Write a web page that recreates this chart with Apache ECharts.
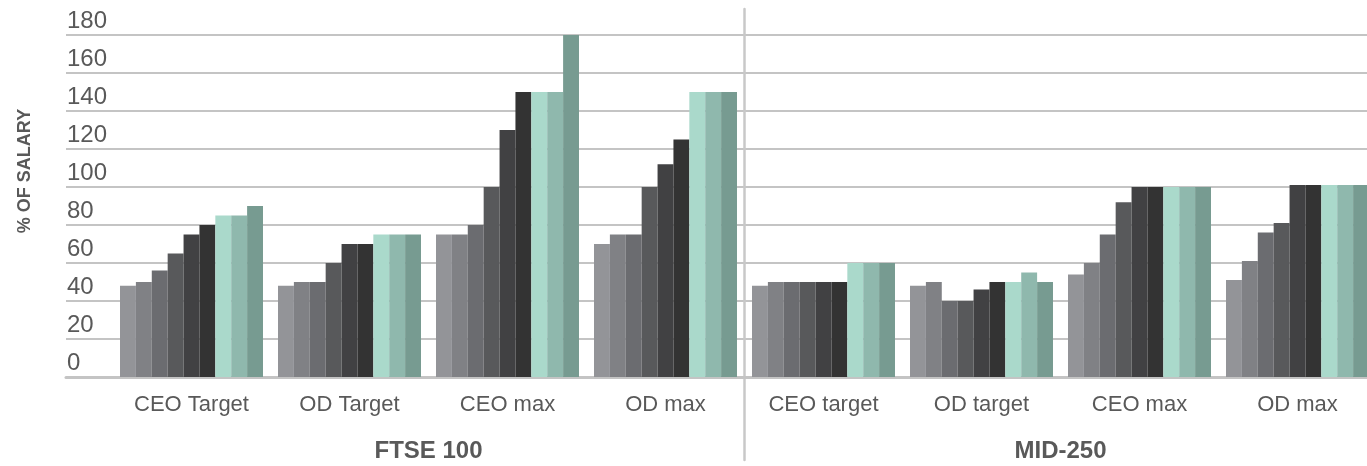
<!DOCTYPE html>
<html>
<head>
<meta charset="utf-8">
<title>Bonus opportunity, % of salary</title>
<script src="https://cdn.jsdelivr.net/npm/echarts@6/dist/echarts.min.js"></script>
<style>
  html, body { margin: 0; padding: 0; background: #ffffff; }
  #chart { width: 1367px; height: 466px; }
</style>
</head>
<body>
<div id="chart"></div>
<script>
// Categories along the bottom axis and the two index groups beneath them
const categories = ['CEO Target', 'OD Target', 'CEO max', 'OD max', 'CEO target', 'OD target', 'CEO max', 'OD max'];
const groups = ['FTSE 100', 'MID-250'];

// Percentage of salary, one array per series (light grey → dark grey → greens)
const series1 = [48, 48, 75, 70, 48, 48, 54, 51];
const series2 = [50, 50, 75, 75, 50, 50, 60, 61];
const series3 = [56, 50, 80, 75, 50, 40, 75, 76];
const series4 = [65, 60, 100, 100, 50, 40, 92, 81];
const series5 = [75, 70, 130, 112, 50, 46, 100, 101];
const series6 = [80, 70, 150, 125, 50, 50, 100, 101];
const series7 = [85, 75, 150, 150, 60, 50, 100, 101];
const series8 = [85, 75, 150, 150, 60, 55, 100, 101];
const series9 = [90, 75, 180, 150, 60, 50, 100, 101];

// Value axis ticks
const yMin = 0, yMax = 180, yStep = 20;

const allSeries = [series1, series2, series3, series4, series5, series6, series7, series8, series9];
const colors = ['#939498', '#808185', '#6b6c70', '#58595b', '#414143', '#333333', '#aad9cb', '#8fb8ad', '#779b91'];

// Layout of the plotting band (the last group runs past the right edge)
const plotLeft = 112.5, plotWidth = 1264, plotTop = 35, plotHeight = 342;
const dividerLeft = plotLeft + plotWidth * 4 / categories.length;

const font = 'Liberation Sans';
const textGrey = '#595959';
const ruleGrey = '#c4c4c4';

const chart = echarts.init(document.getElementById('chart'), null, { renderer: 'canvas' });

chart.setOption({
  animation: false,
  backgroundColor: '#ffffff',
  grid: [
    // bars
    { left: plotLeft, top: plotTop, width: plotWidth, height: plotHeight, outerBoundsMode: 'none', containLabel: false },
    // gridlines + y labels
    { left: 66, right: 0, top: plotTop, height: plotHeight, outerBoundsMode: 'none', containLabel: false },
    // index divider
    { left: dividerLeft, right: 0, top: 9, height: 451, outerBoundsMode: 'none', containLabel: false }
  ],
  xAxis: [
    {
      type: 'category', gridIndex: 0, data: categories,
      axisLine: { show: false }, axisTick: { show: false },
      axisLabel: { color: textGrey, fontFamily: font, fontSize: 22, margin: 17, interval: 0 }
    },
    {
      type: 'category', gridIndex: 0, data: groups, position: 'bottom', offset: 55,
      axisLine: { show: false }, axisTick: { show: false },
      axisLabel: { color: textGrey, fontFamily: font, fontSize: 24, fontWeight: 'bold', margin: 7, interval: 0 }
    },
    {
      type: 'value', gridIndex: 1, min: 0, max: 1, position: 'bottom', offset: 48,
      axisLine: { show: true, lineStyle: { color: ruleGrey, width: 3 } },
      axisTick: { show: false }, axisLabel: { show: false }, splitLine: { show: false }
    },
    {
      type: 'value', gridIndex: 2, min: 0, max: 1, show: false
    }
  ],
  yAxis: [
    { type: 'value', gridIndex: 0, min: yMin, max: yMax, interval: yStep, show: false },
    {
      type: 'value', gridIndex: 1, min: yMin, max: yMax, interval: yStep,
      axisLine: { show: false }, axisTick: { show: false },
      splitLine: { show: true, lineStyle: { color: ruleGrey, width: 2 } },
      axisLabel: {
        inside: true, margin: 1, align: 'left', verticalAlign: 'bottom',
        padding: [0, 0, 2, 0],
        color: textGrey, fontFamily: font, fontSize: 24
      }
    },
    {
      type: 'value', gridIndex: 2, min: 0, max: 1, position: 'left',
      axisLine: { show: true, lineStyle: { color: '#c8c8c8', width: 2.5 } },
      axisTick: { show: false }, axisLabel: { show: false }, splitLine: { show: false }
    }
  ],
  graphic: [
    {
      type: 'text', x: 25, y: 171, rotation: Math.PI / 2,
      style: {
        text: '% OF SALARY', fill: textGrey,
        font: 'bold 18px "Liberation Sans"',
        align: 'center', verticalAlign: 'middle'
      }
    }
  ],
  series: allSeries.map((values, i) => ({
    name: 'Series ' + (i + 1),
    type: 'bar',
    xAxisIndex: 0, yAxisIndex: 0,
    data: values,
    barGap: '0%',
    barCategoryGap: '9.5%',
    itemStyle: { color: colors[i] },
    emphasis: { disabled: true }
  }))
});
</script>
</body>
</html>
